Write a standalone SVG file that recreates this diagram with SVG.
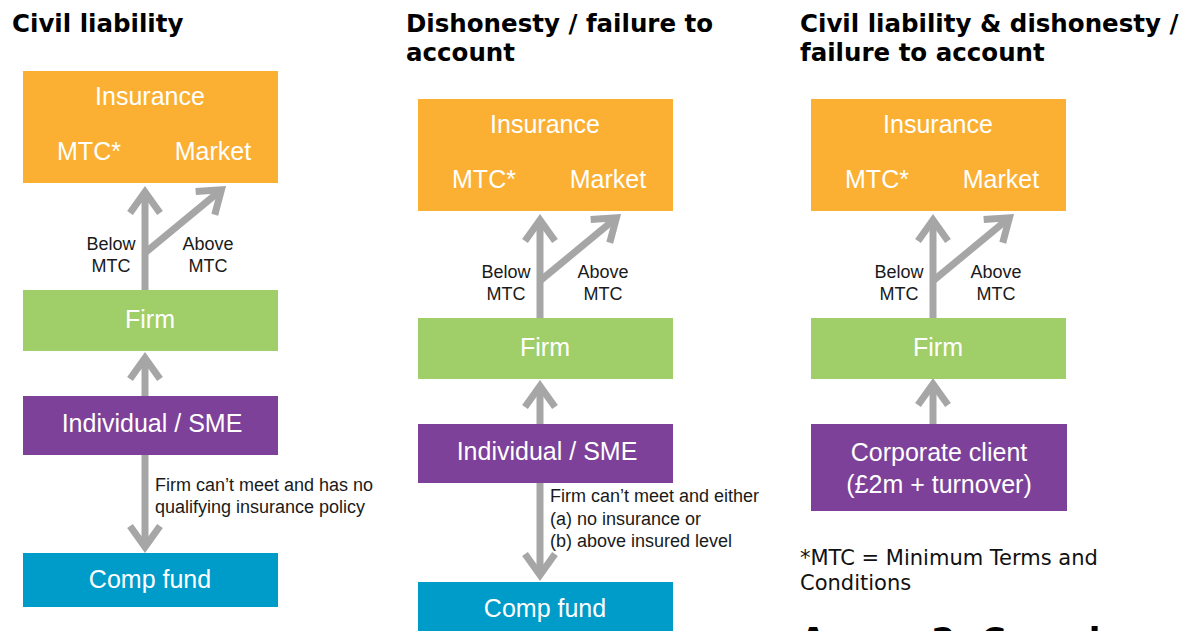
<svg xmlns="http://www.w3.org/2000/svg" width="1192" height="631" viewBox="0 0 1192 631">
<style>
.title{font-family:"DejaVu Sans",sans-serif;font-weight:bold;font-size:24.5px;fill:#000}
.foot{font-family:"DejaVu Sans",sans-serif;font-size:21px;fill:#111}
.annex{font-family:"DejaVu Sans",sans-serif;font-weight:bold;font-size:34px;fill:#000}
.bt{font-family:"Liberation Sans",Arial,sans-serif;font-size:25px;fill:#fff;text-anchor:middle}
.lbl{font-family:"Liberation Sans",Arial,sans-serif;font-size:18px;fill:#1a1a1a}
.lblc{font-family:"Liberation Sans",Arial,sans-serif;font-size:18px;fill:#1a1a1a;text-anchor:middle}
.ins{fill:#FBB034}
.firm{fill:#A0CF6A}
.ind{fill:#7D4199}
.comp{fill:#009CC9}
.arr{stroke:#A6A6A6;stroke-width:7;fill:none;marker-end:url(#chev)}
</style>
<defs>
<marker id="chev" markerUnits="userSpaceOnUse" markerWidth="40" markerHeight="40" viewBox="-30 -20 40 40" refX="0" refY="0" orient="auto" overflow="visible">
<path d="M-21,-15 L0,0 L-21,15" fill="none" stroke="#A6A6A6" stroke-width="7" stroke-linejoin="miter"/>
</marker>
</defs>
<rect width="1192" height="631" fill="#fff"/>

<g id="titles">
<text class="title" x="12" y="32">Civil liability</text>
<text class="title" x="406" y="32">Dishonesty / failure to</text>
<text class="title" x="406" y="61">account</text>
<text class="title" x="800" y="32">Civil liability &amp; dishonesty /</text>
<text class="title" x="800" y="61">failure to account</text>
</g>

<g id="connectors">
<!-- column 1 -->
<path class="arr" d="M145,290 V192"/>
<path class="arr" d="M146,252 L221.4,189.8"/>
<path class="arr" d="M145,396 V358"/>
<path class="arr" d="M145,455 V547"/>
<!-- column 2 -->
<path class="arr" d="M540,318 V220"/>
<path class="arr" d="M541,280 L616.4,217.8"/>
<path class="arr" d="M540,424 V386"/>
<path class="arr" d="M540,483 V575"/>
<!-- column 3 -->
<path class="arr" d="M933,318 V220"/>
<path class="arr" d="M934,280 L1009.4,217.8"/>
<path class="arr" d="M933,424 V384"/>
</g>

<g id="connector-labels">
<text class="lblc" x="111" y="250">Below</text>
<text class="lblc" x="111" y="272">MTC</text>
<text class="lblc" x="208" y="250">Above</text>
<text class="lblc" x="208" y="272">MTC</text>
<text class="lbl" x="155" y="491">Firm can’t meet and has no</text>
<text class="lbl" x="155" y="513">qualifying insurance policy</text>

<text class="lblc" x="506" y="278">Below</text>
<text class="lblc" x="506" y="300">MTC</text>
<text class="lblc" x="603" y="278">Above</text>
<text class="lblc" x="603" y="300">MTC</text>
<text class="lbl" x="550" y="502">Firm can’t meet and either</text>
<text class="lbl" x="550" y="525">(a) no insurance or</text>
<text class="lbl" x="550" y="547">(b) above insured level</text>

<text class="lblc" x="899" y="278">Below</text>
<text class="lblc" x="899" y="300">MTC</text>
<text class="lblc" x="996" y="278">Above</text>
<text class="lblc" x="996" y="300">MTC</text>
</g>

<!-- column 1 nodes -->
<g id="c1-insurance">
<rect class="ins" x="23" y="71" width="255" height="112"/>
<text class="bt" x="150" y="105">Insurance</text>
<text class="bt" x="89" y="160">MTC*</text>
<text class="bt" x="213" y="160">Market</text>
</g>
<g id="c1-firm">
<rect class="firm" x="23" y="290" width="255" height="61"/>
<text class="bt" x="150" y="328">Firm</text>
</g>
<g id="c1-individual">
<rect class="ind" x="23" y="396" width="255" height="59"/>
<text class="bt" x="152" y="432">Individual / SME</text>
</g>
<g id="c1-compfund">
<rect class="comp" x="23" y="553" width="255" height="54"/>
<text class="bt" x="150" y="588">Comp fund</text>
</g>

<!-- column 2 nodes -->
<g id="c2-insurance">
<rect class="ins" x="418" y="99" width="255" height="112"/>
<text class="bt" x="545" y="133">Insurance</text>
<text class="bt" x="484" y="188">MTC*</text>
<text class="bt" x="608" y="188">Market</text>
</g>
<g id="c2-firm">
<rect class="firm" x="418" y="318" width="255" height="61"/>
<text class="bt" x="545" y="356">Firm</text>
</g>
<g id="c2-individual">
<rect class="ind" x="418" y="424" width="255" height="59"/>
<text class="bt" x="547" y="460">Individual / SME</text>
</g>
<g id="c2-compfund">
<rect class="comp" x="418" y="582" width="255" height="60"/>
<text class="bt" x="545" y="617">Comp fund</text>
</g>

<!-- column 3 nodes -->
<g id="c3-insurance">
<rect class="ins" x="811" y="99" width="255" height="112"/>
<text class="bt" x="938" y="133">Insurance</text>
<text class="bt" x="877" y="188">MTC*</text>
<text class="bt" x="1001" y="188">Market</text>
</g>
<g id="c3-firm">
<rect class="firm" x="811" y="318" width="255" height="61"/>
<text class="bt" x="938" y="356">Firm</text>
</g>
<g id="c3-corporate">
<rect class="ind" x="811" y="424" width="256" height="87"/>
<text class="bt" x="939" y="461">Corporate client</text>
<text class="bt" x="939" y="493">(£2m + turnover)</text>
</g>

<g id="footnote">
<text class="foot" x="800" y="565">*MTC = Minimum Terms and</text>
<text class="foot" x="800" y="590">Conditions</text>
<text class="annex" x="800" y="652">Annex 2: Compl</text>
</g>
</svg>
